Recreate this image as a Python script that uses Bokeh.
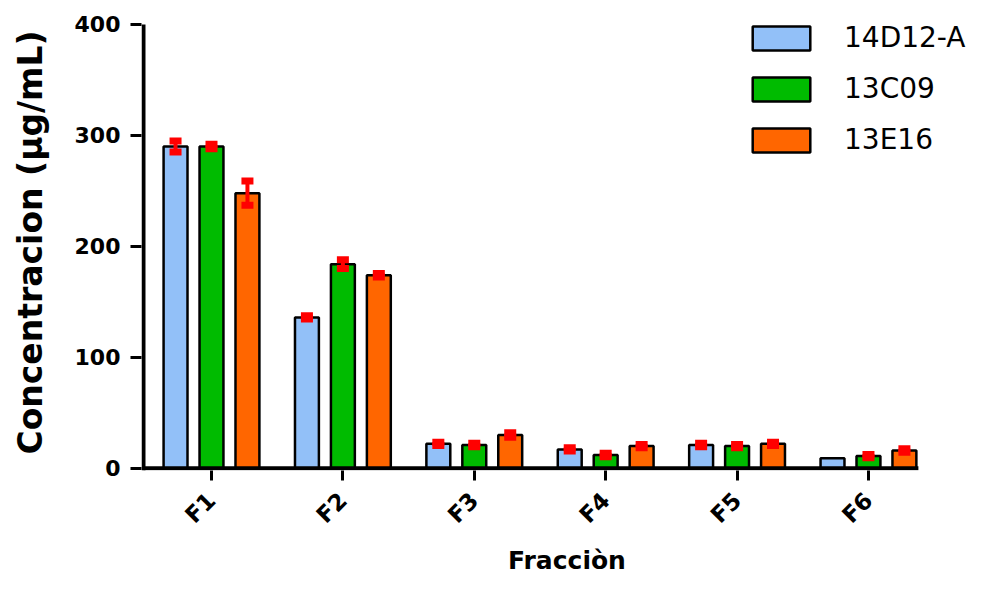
import math
import numpy as np
from bokeh.plotting import figure
from bokeh.models import Range1d, FixedTicker, Legend, LegendItem, ColumnDataSource
from bokeh.embed import file_html
from bokeh.resources import INLINE

# ---- data ----
fractions = ["F1", "F2", "F3", "F4", "F5", "F6"]
series_names = ["14D12-A", "13C09", "13E16"]
vals_14D12A = [290, 136, 22, 17, 21, 9]
vals_13C09 = [290, 184, 21, 12, 20, 11]
vals_13E16 = [248, 174, 30, 20, 22, 16]
err_14D12A = [5, 1.5, 1.5, 1.5, 1.5, None]
err_13C09 = [2, 4, 1.5, 1.5, 1.5, 1.5]
err_13E16 = [11, 1.5, 2, 1.5, 1.5, 1.5]
y_ticks = [0, 100, 200, 300, 400]

colors = ["#92C0F8", "#00BB00", "#FF6600"]
series_vals = [vals_14D12A, vals_13C09, vals_13E16]
series_errs = [err_14D12A, err_13C09, err_13E16]

FONT = "DejaVu Sans"
X0 = 0.4825          # x position of the drawn y-axis line
X_AXIS_END = 6.38    # where the drawn x-axis line stops
Y_TOP = 400          # where the drawn y-axis line stops

p = figure(width=992, height=578, output_backend="svg", toolbar_location=None,
           x_range=Range1d(0.4673, 6.944), y_range=Range1d(-2, 409),
           min_border_left=141, min_border_top=14, min_border_bottom=108,
           min_border_right=0)
p.outline_line_color = None
p.xgrid.visible = False
p.ygrid.visible = False

group_x = np.arange(1, len(fractions) + 1)
offsets = [-0.2736, 0.0, 0.2736]
bar_w = 0.182

renderers = []
for name, vals, col, off in zip(series_names, series_vals, colors, offsets):
    src = ColumnDataSource(dict(x=group_x + off, top=vals))
    r = p.vbar(x="x", top="top", width=bar_w, bottom=0, source=src,
               fill_color=col, line_color="black", line_width=2.5)
    renderers.append((name, r))

for vals, errs, off in zip(series_vals, series_errs, offsets):
    xs, lo, hi = [], [], []
    for gx, v, e in zip(group_x, vals, errs):
        if e is None:
            continue
        xs.append(gx + off)
        lo.append(v - e)
        hi.append(v + e)
    esrc = ColumnDataSource(dict(x=xs, lo=lo, hi=hi))
    p.segment(x0="x", y0="lo", x1="x", y1="hi", source=esrc,
              line_color="#FF0000", line_width=4)
    p.rect(x="x", y="hi", width=12, height=7, width_units="screen",
           height_units="screen", source=esrc, fill_color="#FF0000", line_color=None)
    p.rect(x="x", y="lo", width=12, height=7, width_units="screen",
           height_units="screen", source=esrc, fill_color="#FF0000", line_color=None)

# axis lines drawn as segments so they stop where the reference's do
p.segment(x0=[X0], y0=[0], x1=[X_AXIS_END], y1=[0],
          line_color="black", line_width=4)
p.segment(x0=[X0], y0=[-2], x1=[X0], y1=[Y_TOP],
          line_color="black", line_width=4)

# ---- axes ----
p.xaxis.axis_line_color = None
p.xaxis.ticker = FixedTicker(ticks=[int(g) for g in group_x])
p.xaxis.major_label_overrides = {int(g): f for g, f in zip(group_x, fractions)}
p.xaxis.major_label_orientation = math.pi / 4
p.xaxis.minor_tick_line_color = None
p.xaxis.major_tick_in = 0
p.xaxis.major_tick_out = 10
p.xaxis.major_tick_line_width = 3
p.xaxis.major_label_text_font = FONT
p.xaxis.major_label_text_font_style = "bold"
p.xaxis.major_label_text_font_size = "23px"
p.xaxis.major_label_text_color = "black"
p.xaxis.major_label_standoff = 16
p.xaxis.axis_label = "Fracciòn"
p.xaxis.axis_label_text_font = FONT
p.xaxis.axis_label_text_font_style = "bold"
p.xaxis.axis_label_text_font_size = "25px"
p.xaxis.axis_label_text_color = "black"
p.xaxis.axis_label_standoff = 6

p.yaxis.axis_line_color = None
p.yaxis.ticker = FixedTicker(ticks=y_ticks)
p.yaxis.minor_tick_line_color = None
p.yaxis.major_tick_in = 0
p.yaxis.major_tick_out = 11
p.yaxis.major_tick_line_width = 3
p.yaxis.major_label_text_font = FONT
p.yaxis.major_label_text_font_style = "bold"
p.yaxis.major_label_text_font_size = "22px"
p.yaxis.major_label_text_color = "black"
p.yaxis.major_label_standoff = 10
p.yaxis.axis_label = "Concentracion (µg/mL)"
p.yaxis.axis_label_text_font = FONT
p.yaxis.axis_label_text_font_style = "bold"
p.yaxis.axis_label_text_font_size = "33px"
p.yaxis.axis_label_text_color = "black"
p.yaxis.axis_label_standoff = 22

# ---- legend ----
legend = Legend(items=[LegendItem(label=n, renderers=[r]) for n, r in renderers],
                location=(604, 314), orientation="vertical",
                glyph_width=72, glyph_height=30, label_height=33,
                label_standoff=27, spacing=18, padding=0, margin=0,
                border_line_alpha=0, background_fill_alpha=0,
                label_text_font=FONT, label_text_font_size="28px",
                label_text_color="black")
p.add_layout(legend, "center")

open("out.html", "w").write(file_html(p, INLINE))
